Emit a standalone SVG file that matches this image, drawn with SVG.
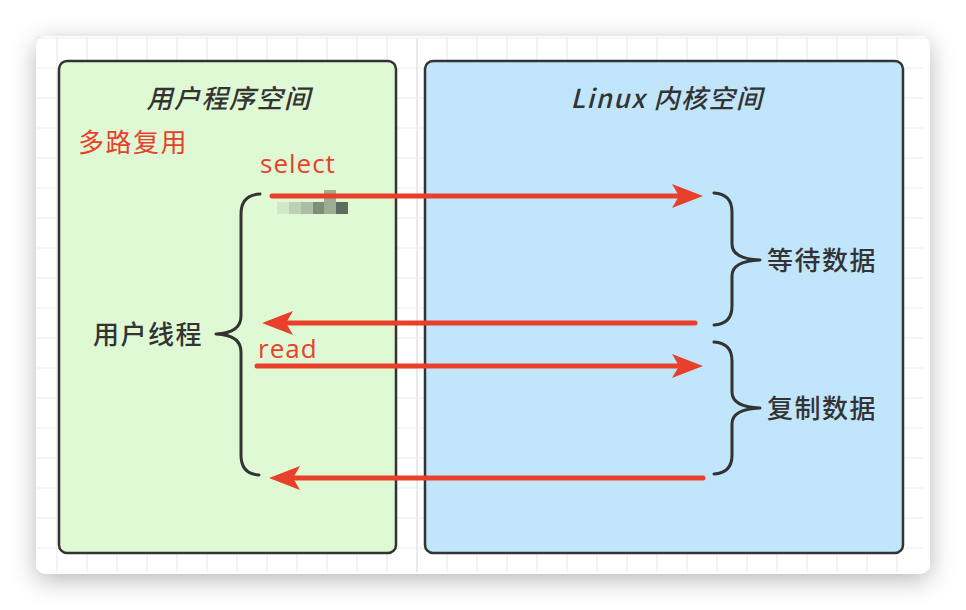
<svg xmlns="http://www.w3.org/2000/svg" width="966" height="610" viewBox="0 0 966 610">
<defs>
<style>
.grid line{stroke:#ececec;stroke-width:1.2}
.box{stroke:#333;stroke-width:2.5}
.brace{fill:none;stroke:#333;stroke-width:3;stroke-linecap:round;stroke-linejoin:round}
.arrow{stroke:#e8402b;stroke-width:5;stroke-linecap:round;fill:none}
.cjk{font-family:"Noto Sans CJK SC","Liberation Sans",sans-serif;font-size:26px;font-weight:500;fill:#333;letter-spacing:1.5px}
.title{font-style:italic;text-anchor:middle}
.red{fill:#e8402b;font-weight:400}
.lat{font-family:"Open Sans","Liberation Sans",sans-serif;font-size:26px;fill:#e8402b;letter-spacing:1px}
</style>
<filter id="sh" x="-10%" y="-10%" width="120%" height="125%">
<feDropShadow dx="0" dy="6" stdDeviation="12" flood-color="#000" flood-opacity="0.28"/>
</filter>
<marker id="ah" markerUnits="userSpaceOnUse" markerWidth="32" markerHeight="26" refX="7" refY="12" orient="auto" viewBox="0 0 32 26">
<path d="M0,0 L31,12 L0,24 L7,12 Z" fill="#e8402b"/>
</marker>
</defs>
<rect width="966" height="610" fill="#fff"/>
<rect x="36" y="36" width="894" height="538" rx="10" fill="#fff" filter="url(#sh)"/>
<g class="grid">
<line x1="57" y1="38" x2="57" y2="572"/><line x1="87" y1="38" x2="87" y2="572"/><line x1="117" y1="38" x2="117" y2="572"/><line x1="147" y1="38" x2="147" y2="572"/><line x1="177" y1="38" x2="177" y2="572"/><line x1="207" y1="38" x2="207" y2="572"/><line x1="237" y1="38" x2="237" y2="572"/><line x1="267" y1="38" x2="267" y2="572"/><line x1="297" y1="38" x2="297" y2="572"/><line x1="327" y1="38" x2="327" y2="572"/><line x1="357" y1="38" x2="357" y2="572"/><line x1="387" y1="38" x2="387" y2="572"/><line x1="417" y1="38" x2="417" y2="572" style="stroke:#dcdcdc"/><line x1="447" y1="38" x2="447" y2="572"/><line x1="477" y1="38" x2="477" y2="572"/><line x1="507" y1="38" x2="507" y2="572"/><line x1="537" y1="38" x2="537" y2="572"/><line x1="567" y1="38" x2="567" y2="572"/><line x1="597" y1="38" x2="597" y2="572"/><line x1="627" y1="38" x2="627" y2="572"/><line x1="657" y1="38" x2="657" y2="572"/><line x1="687" y1="38" x2="687" y2="572"/><line x1="717" y1="38" x2="717" y2="572"/><line x1="747" y1="38" x2="747" y2="572"/><line x1="777" y1="38" x2="777" y2="572"/><line x1="807" y1="38" x2="807" y2="572"/><line x1="837" y1="38" x2="837" y2="572"/><line x1="867" y1="38" x2="867" y2="572"/><line x1="897" y1="38" x2="897" y2="572"/>
<line x1="37" y1="38" x2="923" y2="38"/><line x1="37" y1="68" x2="923" y2="68"/><line x1="37" y1="98" x2="923" y2="98"/><line x1="37" y1="128" x2="923" y2="128"/><line x1="37" y1="158" x2="923" y2="158"/><line x1="37" y1="188" x2="923" y2="188"/><line x1="37" y1="218" x2="923" y2="218"/><line x1="37" y1="248" x2="923" y2="248"/><line x1="37" y1="278" x2="923" y2="278"/><line x1="37" y1="308" x2="923" y2="308"/><line x1="37" y1="338" x2="923" y2="338"/><line x1="37" y1="368" x2="923" y2="368"/><line x1="37" y1="398" x2="923" y2="398"/><line x1="37" y1="428" x2="923" y2="428"/><line x1="37" y1="458" x2="923" y2="458"/><line x1="37" y1="488" x2="923" y2="488"/><line x1="37" y1="518" x2="923" y2="518"/><line x1="37" y1="548" x2="923" y2="548"/>
</g>
<g id="user-space">
<rect class="box" x="59" y="61" width="337" height="492" rx="8" fill="#dff9d4"/>
<text class="cjk title" x="229" y="108">用户程序空间</text>
<text class="cjk red" x="78" y="152">多路复用</text>
</g>
<g id="kernel-space">
<rect class="box" x="425" y="61" width="478" height="492" rx="8" fill="#c1e5fb"/>
<text class="cjk title" x="667" y="108" font-family="Noto Sans,Liberation Sans,sans-serif">Linux 内核空间</text>
</g>
<g id="user-thread">
<path class="brace" d="M260,194 Q241,195 241,214 L241,316 Q241,333 216,334 Q241,335 241,352 L241,455 Q241,474 259,475"/>
<text class="cjk" x="93" y="344">用户线程</text>
</g>
<g id="wait-data">
<path class="brace" d="M714,193 Q732,194 732,212 L732,244 Q732,259 760,260 Q732,261 732,276 L732,306 Q732,324 714,325"/>
<text class="cjk" x="767" y="270">等待数据</text>
</g>
<g id="copy-data">
<path class="brace" d="M714,342 Q732,343 732,361 L732,392 Q732,407 760,408 Q732,409 732,424 L732,455 Q732,473 714,474"/>
<text class="cjk" x="767" y="418">复制数据</text>
</g>
<g id="redacted">
<rect x="277" y="202" width="12" height="12" fill="#d2e6c9"/>
<rect x="289" y="202" width="12" height="12" fill="#bdd1b4"/>
<rect x="301" y="202" width="12" height="12" fill="#abbda2"/>
<rect x="313" y="202" width="11" height="12" fill="#7f8d79"/>
<rect x="324" y="190" width="12" height="24" fill="#9cad94"/>
<rect x="336" y="202" width="12" height="12" fill="#5f6b5c"/>
</g>
<g id="connectors">
<line class="arrow" x1="272" y1="196" x2="679" y2="196" marker-end="url(#ah)"/>
<line class="arrow" x1="695" y1="323" x2="286" y2="323" marker-end="url(#ah)"/>
<line class="arrow" x1="257" y1="366" x2="679" y2="366" marker-end="url(#ah)"/>
<line class="arrow" x1="703" y1="478" x2="293" y2="478" marker-end="url(#ah)"/>
<text class="lat" x="260" y="173">select</text>
<text class="lat" x="258" y="358">read</text>
</g>
</svg>
